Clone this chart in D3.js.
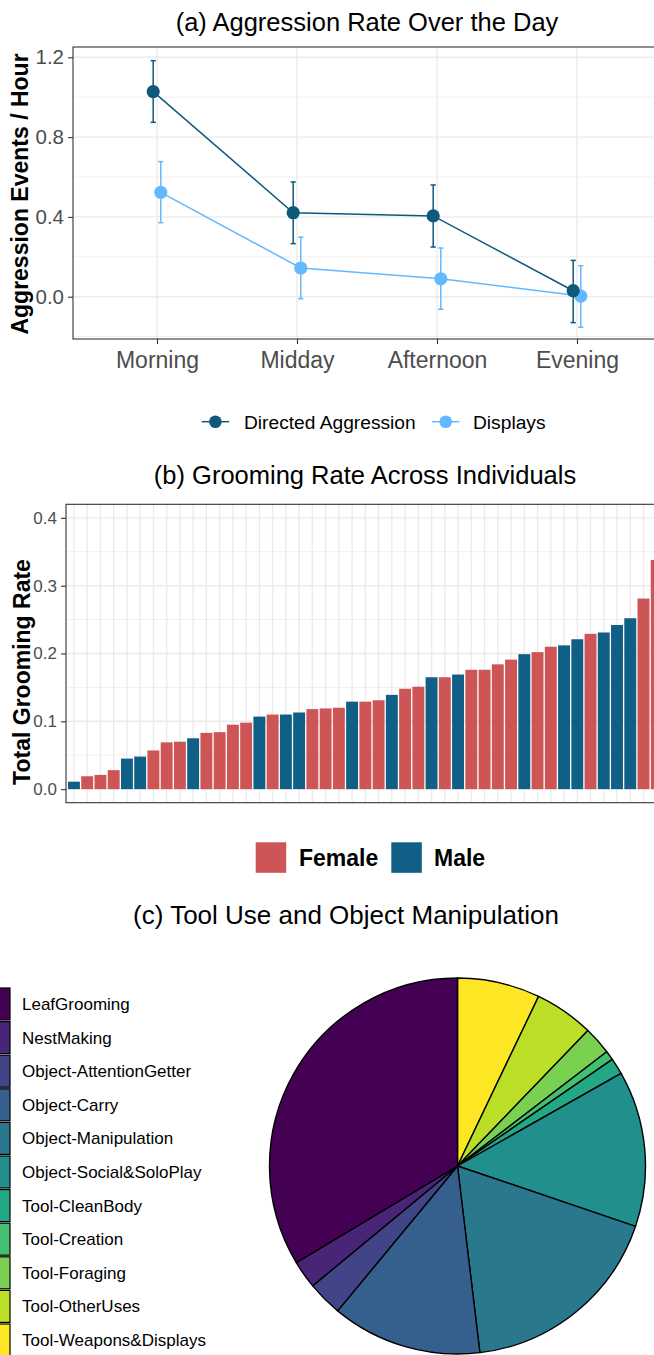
<!DOCTYPE html>
<html>
<head>
<meta charset="utf-8">
<script src="https://cdn.jsdelivr.net/npm/d3@7"></script>
<style>
  body { margin: 0; background: #fff; }
  svg { display: block; font-family: "Liberation Sans", Arial, sans-serif; }
</style>
</head>
<body>
<script>
// ---- data (a) ----
var periods = ["Morning", "Midday", "Afternoon", "Evening"];
var directedMean = [1.028, 0.421, 0.405, 0.030];
var directedLow = [0.874, 0.266, 0.249, -0.130];
var directedHigh = [1.183, 0.575, 0.560, 0.182];
var displayMean = [0.523, 0.144, 0.090, 0.003];
var displayLow = [0.371, -0.010, -0.063, -0.153];
var displayHigh = [0.677, 0.299, 0.244, 0.155];
var aTicks = [0.0, 0.4, 0.8, 1.2];
var aMinor = [-0.2, 0.2, 0.6, 1.0];

// ---- data (b) ----
var groomRate = [0.011, 0.019, 0.021, 0.028, 0.045, 0.048, 0.057, 0.069, 0.070, 0.075,
  0.083, 0.084, 0.095, 0.098, 0.107, 0.110, 0.110, 0.113, 0.118, 0.119,
  0.120, 0.129, 0.129, 0.131, 0.139, 0.148, 0.151, 0.165, 0.165, 0.169,
  0.176, 0.176, 0.184, 0.191, 0.199, 0.202, 0.210, 0.212, 0.221, 0.229,
  0.231, 0.242, 0.252, 0.281, 0.338];
var groomSex = ["M","F","F","F","M","M","F","F","F","M",
  "F","F","F","F","M","F","M","M","F","F",
  "F","M","F","F","M","F","F","M","F","M",
  "F","F","F","F","M","F","F","M","M","F",
  "M","M","M","F","F"];
var bTicks = [0.0, 0.1, 0.2, 0.3, 0.4];
var bMinor = [0.05, 0.15, 0.25, 0.35];

// ---- data (c) ----
var toolCats = ["LeafGrooming", "NestMaking", "Object-AttentionGetter", "Object-Carry",
  "Object-Manipulation", "Object-Social&SoloPlay", "Tool-CleanBody", "Tool-Creation",
  "Tool-Foraging", "Tool-OtherUses", "Tool-Weapons&Displays"];
var toolPct = [33.6, 2.4, 3.0, 12.9, 17.9, 13.4, 1.4, 0.8, 2.4, 5.1, 7.1];
var toolColors = ["#440154","#482576","#414487","#35608D","#2A788E","#21908C",
  "#22A884","#43BF71","#7AD151","#BBDF27","#FDE725"];

var W = 654, H = 1355;
var gridCol = "#ebebeb", borderCol = "#333333", tickTxt = "#4d4d4d";
var cDirected = "#0f5a7c", cDisplay = "#63b8ff";
var cFemale = "#cd5555", cMale = "#0f5f86";

var svg = d3.select("body").append("svg")
  .attr("width", W).attr("height", H);

// =============== (a) ===============
var aBox = {left: 73, top: 47, right: 661, bottom: 339};
var xA = d3.scalePoint().domain(periods).range([aBox.left, aBox.right]).padding(0.6);
var yA = d3.scaleLinear().domain([-0.212, 1.2516]).range([aBox.bottom, aBox.top]);

var gA = svg.append("g");
gA.selectAll(".minor").data(aMinor).enter().append("line")
  .attr("x1", aBox.left).attr("x2", aBox.right)
  .attr("y1", d => yA(d)).attr("y2", d => yA(d))
  .attr("stroke", gridCol).attr("stroke-width", 0.8);
gA.selectAll(".major").data(aTicks).enter().append("line")
  .attr("x1", aBox.left).attr("x2", aBox.right)
  .attr("y1", d => yA(d)).attr("y2", d => yA(d))
  .attr("stroke", gridCol).attr("stroke-width", 1.4);
gA.selectAll(".vmajor").data(periods).enter().append("line")
  .attr("x1", d => xA(d)).attr("x2", d => xA(d))
  .attr("y1", aBox.top).attr("y2", aBox.bottom)
  .attr("stroke", gridCol).attr("stroke-width", 1.4);

var series = [
  {name: "Directed Aggression", color: cDirected, mean: directedMean, lo: directedLow, hi: directedHigh, dx: -3.8},
  {name: "Displays", color: cDisplay, mean: displayMean, lo: displayLow, hi: displayHigh, dx: 3.8}
];

series.slice().reverse().forEach(function(s) {
  var pts = periods.map((p, i) => ({x: xA(p) + s.dx, m: s.mean[i], lo: s.lo[i], hi: s.hi[i]}));
  var g = gA.append("g");
  g.selectAll(".eb").data(pts).enter().append("line")
    .attr("x1", d => d.x).attr("x2", d => d.x)
    .attr("y1", d => yA(d.lo)).attr("y2", d => yA(d.hi))
    .attr("stroke", s.color).attr("stroke-width", 1.5);
  g.selectAll(".cap1").data(pts).enter().append("line")
    .attr("x1", d => d.x - 2.6).attr("x2", d => d.x + 2.6)
    .attr("y1", d => yA(d.hi)).attr("y2", d => yA(d.hi))
    .attr("stroke", s.color).attr("stroke-width", 1.5);
  g.selectAll(".cap2").data(pts).enter().append("line")
    .attr("x1", d => d.x - 2.6).attr("x2", d => d.x + 2.6)
    .attr("y1", d => yA(d.lo)).attr("y2", d => yA(d.lo))
    .attr("stroke", s.color).attr("stroke-width", 1.5);
  g.append("path").datum(pts)
    .attr("d", d3.line().x(d => d.x).y(d => yA(d.m)))
    .attr("fill", "none").attr("stroke", s.color).attr("stroke-width", 1.5);
  g.selectAll("circle").data(pts).enter().append("circle")
    .attr("cx", d => d.x).attr("cy", d => yA(d.m)).attr("r", 6.6)
    .attr("fill", s.color);
});

gA.append("rect")
  .attr("x", aBox.left).attr("y", aBox.top)
  .attr("width", aBox.right - aBox.left).attr("height", aBox.bottom - aBox.top)
  .attr("fill", "none").attr("stroke", borderCol).attr("stroke-width", 1.1);

var yAxisA = gA.append("g").attr("transform", `translate(${aBox.left},0)`)
  .call(d3.axisLeft(yA).tickValues(aTicks).tickFormat(d3.format(".1f")).tickSize(5).tickPadding(4));
var xAxisA = gA.append("g").attr("transform", `translate(0,${aBox.bottom})`)
  .call(d3.axisBottom(xA).tickSize(5).tickPadding(8));
[yAxisA, xAxisA].forEach(function(ax) {
  ax.select(".domain").remove();
  ax.selectAll(".tick line").attr("stroke", borderCol).attr("stroke-width", 1.1);
  ax.selectAll(".tick text").attr("fill", tickTxt).style("font-family", "Liberation Sans, Arial, sans-serif");
});
yAxisA.selectAll(".tick text").style("font-size", "20.5px");
xAxisA.selectAll(".tick text").style("font-size", "23px");

svg.append("text").attr("x", 367).attr("y", 31).attr("text-anchor", "middle")
  .style("font-size", "25.5px").attr("fill", "#000").text("(a) Aggression Rate Over the Day");
svg.append("text").attr("transform", "translate(27.5,194) rotate(-90)")
  .attr("text-anchor", "middle").style("font-size", "23px").style("font-weight", "bold")
  .text("Aggression Events / Hour");

// legend (a)
var legA = svg.append("g");
var legAItems = [{s: series[0], x0: 201.7, tx: 244}, {s: series[1], x0: 432, tx: 473}];
legAItems.forEach(function(it) {
  legA.append("line").attr("x1", it.x0).attr("x2", it.x0 + 27.5)
    .attr("y1", 421.7).attr("y2", 421.7).attr("stroke", it.s.color).attr("stroke-width", 1.5);
  legA.append("circle").attr("cx", it.x0 + 13.7).attr("cy", 421.7).attr("r", 6.3).attr("fill", it.s.color);
  legA.append("text").attr("x", it.tx).attr("y", 428.5).style("font-size", "19.2px").text(it.s.name);
});

// =============== (b) ===============
var bBox = {left: 66, top: 504.3, right: 664.7, bottom: 802.7};
var idx = d3.range(groomRate.length);
var xB = d3.scalePoint().domain(idx).range([bBox.left, bBox.right]).padding(0.6);
var yB = d3.scaleLinear().domain([-0.02, 0.42]).range([bBox.bottom, bBox.top]);
var bw = xB.step() * 0.9;

var gB = svg.append("g");
gB.selectAll(".minor").data(bMinor).enter().append("line")
  .attr("x1", bBox.left).attr("x2", bBox.right)
  .attr("y1", d => yB(d)).attr("y2", d => yB(d))
  .attr("stroke", gridCol).attr("stroke-width", 0.8);
gB.selectAll(".major").data(bTicks).enter().append("line")
  .attr("x1", bBox.left).attr("x2", bBox.right)
  .attr("y1", d => yB(d)).attr("y2", d => yB(d))
  .attr("stroke", gridCol).attr("stroke-width", 1.4);
gB.selectAll(".vmajor").data(idx).enter().append("line")
  .attr("x1", d => xB(d)).attr("x2", d => xB(d))
  .attr("y1", bBox.top).attr("y2", bBox.bottom)
  .attr("stroke", gridCol).attr("stroke-width", 1.4);

gB.selectAll(".bar").data(idx).enter().append("rect")
  .attr("x", d => xB(d) - bw / 2).attr("width", bw)
  .attr("y", d => yB(groomRate[d])).attr("height", d => yB(0) - yB(groomRate[d]))
  .attr("fill", d => groomSex[d] === "F" ? cFemale : cMale);

gB.append("rect")
  .attr("x", bBox.left).attr("y", bBox.top)
  .attr("width", bBox.right - bBox.left).attr("height", bBox.bottom - bBox.top)
  .attr("fill", "none").attr("stroke", borderCol).attr("stroke-width", 1.1);

var yAxisB = gB.append("g").attr("transform", `translate(${bBox.left},0)`)
  .call(d3.axisLeft(yB).tickValues(bTicks).tickFormat(d3.format(".1f")).tickSize(5).tickPadding(4));
yAxisB.select(".domain").remove();
yAxisB.selectAll(".tick line").attr("stroke", borderCol).attr("stroke-width", 1.1);
yAxisB.selectAll(".tick text").attr("fill", tickTxt).style("font-size", "17px")
  .style("font-family", "Liberation Sans, Arial, sans-serif");

svg.append("text").attr("x", 365).attr("y", 483.5).attr("text-anchor", "middle")
  .style("font-size", "25.5px").text("(b) Grooming Rate Across Individuals");
svg.append("text").attr("transform", "translate(30,672) rotate(-90)")
  .attr("text-anchor", "middle").style("font-size", "23px").style("font-weight", "bold")
  .text("Total Grooming Rate");

var legB = svg.append("g");
[{label: "Female", c: cFemale, x: 255.7, tx: 299}, {label: "Male", c: cMale, x: 391.3, tx: 434}].forEach(function(it) {
  legB.append("rect").attr("x", it.x).attr("y", 842.3).attr("width", 30.5).attr("height", 30.5).attr("fill", it.c);
  legB.append("text").attr("x", it.tx).attr("y", 865.8).style("font-size", "23px")
    .style("font-weight", "bold").text(it.label);
});

// =============== (c) ===============
svg.append("text").attr("x", 346).attr("y", 923.5).attr("text-anchor", "middle")
  .style("font-size", "26px").text("(c) Tool Use and Object Manipulation");

var pieData = d3.pie().sort(null).value(d => d.v)(
  toolCats.map((c, i) => ({c: c, v: toolPct[i], col: toolColors[i]})).reverse());
var arc = d3.arc().innerRadius(0).outerRadius(188);
var gC = svg.append("g").attr("transform", "translate(457.5,1166)");
gC.selectAll("path").data(pieData).enter().append("path")
  .attr("d", arc).attr("fill", d => d.data.col)
  .attr("stroke", "#000").attr("stroke-width", 1.4).attr("stroke-linejoin", "round");

var legC = svg.append("g");
var rowY = d3.scalePoint().domain(toolCats).range([1004, 1340]);
legC.selectAll("rect").data(toolCats).enter().append("rect")
  .attr("x", -22).attr("y", d => rowY(d) - 16).attr("width", 32).attr("height", 32)
  .attr("fill", (d, i) => toolColors[i]).attr("stroke", "#000").attr("stroke-width", 1.2);
legC.selectAll("text").data(toolCats).enter().append("text")
  .attr("x", 22).attr("y", d => rowY(d) + 6).style("font-size", "17px").text(d => d);
</script>
</body>
</html>
